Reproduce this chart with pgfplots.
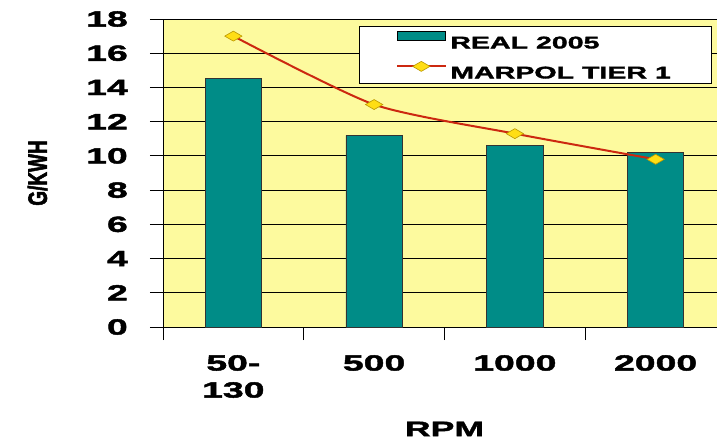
\documentclass[border=0pt]{standalone}
\usepackage{fontspec}
\newfontfamily\wide{Liberation Sans}[UprightFont={* Bold}, FakeStretch=1.7, FakeBold=2]
\newfontfamily\plainb{Liberation Sans}[UprightFont={* Bold}, FakeBold=2.5]
\usepackage{pgfplots}
\pgfplotsset{compat=1.18}
\definecolor{bgyellow}{RGB}{253,250,158}
\definecolor{barteal}{RGB}{0,140,135}
\definecolor{linered}{RGB}{204,40,16}
\definecolor{mkfill}{RGB}{255,222,20}
\definecolor{mkdraw}{RGB}{185,150,0}
\pgfplotsset{
  barleg/.style={legend image code/.code={\draw[fill=barteal, draw=black, line width=0.8bp] (0bp,1.5bp) rectangle (48bp,10.5bp);}},
  lineleg/.style={legend image code/.code={\draw[##1, mark repeat=2, mark phase=2] plot coordinates {(0bp,6bp) (24bp,6bp) (48bp,6bp)};}},
}
\begin{document}
\begin{tikzpicture}
\begin{axis}[
  width=563bp, height=308bp, scale only axis,
  xmin=-0.5, xmax=3.5, ymin=0, ymax=18,
  ytick={0,2,...,18},
  xtick={-0.5,0.5,1.5,2.5,3.5},
  xticklabels={{50-\\130},500,1000,2000},
  x tick label as interval,
  tick align=outside, tick pos=left,
  major tick length=13bp,
  tick style={black, line width=0.8bp},
  /pgf/number format/assume math mode=true,
  yticklabel style={font=\wide\fontsize{22bp}{26bp}\selectfont, anchor=east, inner sep=0pt, xshift=-22bp},
  xticklabel style={font=\wide\fontsize{22bp}{27bp}\selectfont, align=center, anchor=north, inner sep=0pt, yshift=-15bp},
  ymajorgrids,
  grid style={black, line width=0.8bp},
  axis line style={black, line width=0.8bp},
  axis background/.style={fill=bgyellow},
  xlabel={RPM},
  xlabel style={font=\wide\fontsize{21bp}{24bp}\selectfont, inner sep=0pt, at={(axis description cs:0.5,-0.331)}, anchor=center},
  ylabel={\scalebox{1}[1.4]{G/KWH}},
  ylabel style={font=\plainb\fontsize{19bp}{22bp}\selectfont, inner sep=0pt, at={(axis description cs:-0.2229,0.5)}, anchor=center},
  legend style={draw=black, fill=white, line width=0.8bp,
    at={(axis description cs:0.348,0.977)}, anchor=north west,
    inner xsep=37bp, inner ysep=5bp, row sep=13bp,
    font=\wide\fontsize{16.8bp}{18bp}\selectfont,
    nodes={inner xsep=4bp, inner ysep=0pt, text height=12bp, text depth=0pt}},
  legend cell align=left,
]
\addplot[ybar, bar width=0.4, fill=barteal, draw=black!80, line width=0.8bp, barleg]
  coordinates {(0,14.5) (1,11.2) (2,10.6) (3,10.2)};
\addlegendentry{REAL 2005}
\addplot[linered, line width=2bp, smooth, tension=0.4, mark=diamond*, mark size=5bp,
  mark options={fill=mkfill, draw=mkdraw, line width=0.6bp, xscale=2.3}, lineleg]
  coordinates {(0,17) (1,13) (2,11.3) (3,9.8)};
\addlegendentry{MARPOL TIER 1}
\end{axis}
\pgfresetboundingbox
\useasboundingbox (-163bp,-114bp) rectangle (554bp,327bp);
\end{tikzpicture}
\end{document}
